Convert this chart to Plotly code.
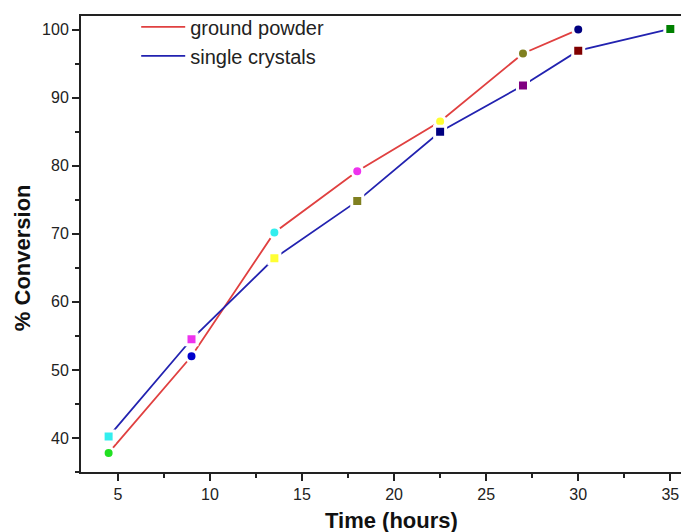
import plotly.graph_objects as go

# Reaction time (hours) and % conversion for the two sample forms
powder_time = [4.5, 9, 13.5, 18, 22.5, 27, 30]
powder_conv = [37.8, 52.0, 70.2, 79.2, 86.5, 96.5, 100.0]
powder_colors = ["#22e022", "#0000cc", "#33eeee", "#ee33ee", "#ffff33", "#808020", "#000080"]

crystal_time = [4.5, 9, 13.5, 18, 22.5, 27, 30, 35]
crystal_conv = [40.2, 54.5, 66.4, 74.8, 85.0, 91.8, 96.9, 100.1]
crystal_colors = ["#33eeee", "#ee33ee", "#ffff33", "#808020", "#000080", "#800080", "#800000", "#008000"]

series_names = ["ground powder", "single crystals"]
line_colors = ["#e04040", "#2222b0"]

x_ticks = [5, 10, 15, 20, 25, 30, 35]
y_ticks = [40, 50, 60, 70, 80, 90, 100]

FONT = "Arial, Liberation Sans, sans-serif"

fig = go.Figure()

# Data traces: coloured markers with a white ring so the line stops short of each point
fig.add_trace(go.Scatter(
    x=powder_time, y=powder_conv, mode="lines+markers", showlegend=False,
    line=dict(color=line_colors[0], width=1.8),
    marker=dict(symbol="circle", size=11, color=powder_colors,
                line=dict(color="white", width=3)),
))
fig.add_trace(go.Scatter(
    x=crystal_time, y=crystal_conv, mode="lines+markers", showlegend=False,
    line=dict(color=line_colors[1], width=1.8),
    marker=dict(symbol="square", size=11, color=crystal_colors,
                line=dict(color="white", width=3)),
))

# Line-only legend entries
for name, color in zip(series_names, line_colors):
    fig.add_trace(go.Scatter(x=[None], y=[None], mode="lines", name=name,
                             line=dict(color=color, width=1.8)))

axis_common = dict(
    showline=True, linecolor="#222222", linewidth=2,
    ticks="outside", ticklen=7, tickwidth=1.5, tickcolor="#222222",
    showgrid=False, zeroline=False,
    tickfont=dict(family=FONT, size=16, color="#222222"),
)

fig.update_xaxes(
    range=[3, 35.58], tickvals=x_ticks, mirror=True,
    minor=dict(ticks="outside", ticklen=4, tickwidth=1.5, tickcolor="#222222", dtick=2.5, tick0=2.5),
    **axis_common,
)
fig.update_yaxes(
    range=[35, 102], tickvals=y_ticks, mirror=False,
    minor=dict(ticks="outside", ticklen=4, tickwidth=1.5, tickcolor="#222222", dtick=5, tick0=35),
    **axis_common,
)

fig.add_annotation(
    text="<b>% Conversion</b>", textangle=-90, showarrow=False,
    xref="paper", yref="paper", x=0, y=0.469, xanchor="center", yanchor="middle",
    xshift=-59, font=dict(family=FONT, size=22, color="#111111"),
)
fig.add_annotation(
    text="<b>Time (hours)</b>", showarrow=False,
    xref="paper", yref="paper", x=0.517, y=0, xanchor="center", yanchor="middle",
    yshift=-48, font=dict(family=FONT, size=22, color="#111111"),
)

fig.update_layout(
    width=681, height=532,
    margin=dict(l=81, r=0, t=16, b=60),
    paper_bgcolor="white", plot_bgcolor="white",
    legend=dict(x=0.092, y=1.019, xanchor="left", yanchor="top", itemwidth=44,
                bgcolor="rgba(0,0,0,0)", tracegroupgap=0,
                font=dict(family=FONT, size=20, color="#222222")),
)

fig.write_html("out.html")
